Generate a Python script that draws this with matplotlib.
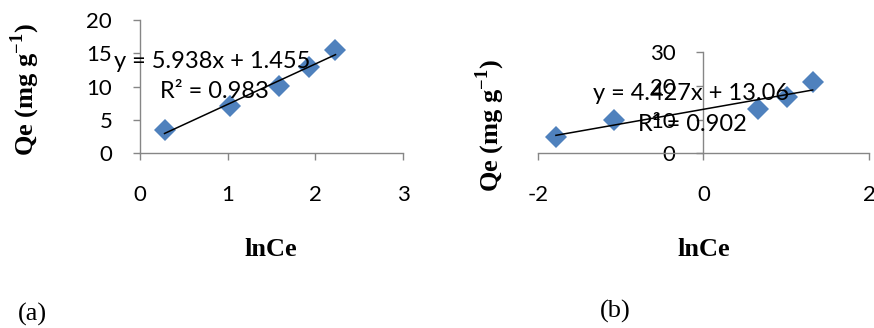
import matplotlib
matplotlib.use("Agg")
import matplotlib.pyplot as plt
import numpy as np

# Freundlich-type plots: Qe vs lnCe
lnce_a = [0.28, 1.03, 1.59, 1.93, 2.23]
qe_a = [3.5, 7.1, 10.1, 13.0, 15.5]
eq_a = "y = 5.938x + 1.455"
r2_a = "R² = 0.983"

lnce_b = [-1.78, -1.08, 0.66, 1.01, 1.32]
qe_b = [4.9, 9.8, 13.1, 16.8, 21.3]
eq_b = "y = 4.427x + 13.06"
r2_b = "R² = 0.902"

xticks_a = [0, 1, 2, 3]
yticks_a = [0, 5, 10, 15, 20]
xticks_b = [-2, 0, 2]
yticks_b = [0, 10, 20, 30]

W, H = 874, 328
BLUE = "#4F81BD"
GRAY = "#868686"
SANS = "Lato"
SERIF = "Liberation Serif"

plt.rcParams["axes.unicode_minus"] = False
plt.rcParams["mathtext.fontset"] = "custom"
plt.rcParams["mathtext.rm"] = SERIF
plt.rcParams["mathtext.bf"] = SERIF + ":bold"

fig = plt.figure(figsize=(W / 100, H / 100), dpi=100)


def px_axes(x0, x1, y_top, y_bot):
    # axes box from pixel edges of the plot area
    return fig.add_axes([x0 / W, 1 - y_bot / H, (x1 - x0) / W, (y_bot - y_top) / H])


def ftext(x, y, s, **kw):
    fig.text(x / W, 1 - y / H, s, **kw)


def style(ax, xlim, ylim, xt, yt):
    ax.set_xlim(*xlim)
    ax.set_ylim(*ylim)
    ax.set_xticks(xt)
    ax.set_yticks(yt)
    ax.patch.set_alpha(0)
    for s in ["top", "right"]:
        ax.spines[s].set_visible(False)
    ax.spines["left"].set_position(("data", 0))
    ax.spines["bottom"].set_position(("data", 0))
    for s in ["left", "bottom"]:
        ax.spines[s].set_color(GRAY)
        ax.spines[s].set_linewidth(1.0)
    ax.tick_params(axis="both", direction="out", length=5, width=1.0, color=GRAY,
                   labelsize=16, labelcolor="black")
    ax.tick_params(axis="y", pad=15)
    ax.tick_params(axis="x", pad=18)
    for lab in ax.get_xticklabels() + ax.get_yticklabels():
        lab.set_fontfamily(SANS)


def draw(ax, x, y):
    ax.plot(x, y, linestyle="none", marker="D", markersize=11, color=BLUE,
            markeredgewidth=0, clip_on=False, zorder=3)
    k, b = np.polyfit(x, y, 1)
    xs = np.array([min(x), max(x)])
    ax.plot(xs, k * xs + b, color="black", linewidth=1.1, zorder=4)


ax_a = px_axes(140, 403, 20, 153.3)
draw(ax_a, lnce_a, qe_a)
style(ax_a, (0, 3), (0, 20), xticks_a, yticks_a)

ax_b = px_axes(537.7, 869, 52.3, 153.3)
draw(ax_b, lnce_b, qe_b)
style(ax_b, (-2, 2), (0, 30), xticks_b, yticks_b)

# trendline labels
ftext(212, 68, eq_a, ha="center", va="baseline", fontsize=17, family=SANS, zorder=5)
ftext(214, 98, r2_a, ha="center", va="baseline", fontsize=17, family=SANS, zorder=5)
ftext(691, 100, eq_b, ha="center", va="baseline", fontsize=17, family=SANS, zorder=5)
ftext(692, 131, r2_b, ha="center", va="baseline", fontsize=17, family=SANS, zorder=5)

# axis titles
ylab = r"Qe (mg g$^{\mathbf{-1}}$)"
ftext(25, 90, ylab, rotation=90, ha="center", va="center", fontsize=19,
      family=SERIF, weight="bold")
ftext(490, 126, ylab, rotation=90, ha="center", va="center", fontsize=19,
      family=SERIF, weight="bold")
ftext(271, 256, "lnCe", ha="center", va="baseline", fontsize=19, family=SERIF, weight="bold")
ftext(704, 256, "lnCe", ha="center", va="baseline", fontsize=19, family=SERIF, weight="bold")

# panel tags
ftext(32, 321, "(a)", ha="center", va="baseline", fontsize=19, family=SERIF)
ftext(615, 318, "(b)", ha="center", va="baseline", fontsize=19, family=SERIF)

fig.savefig("out.png", dpi=100)
